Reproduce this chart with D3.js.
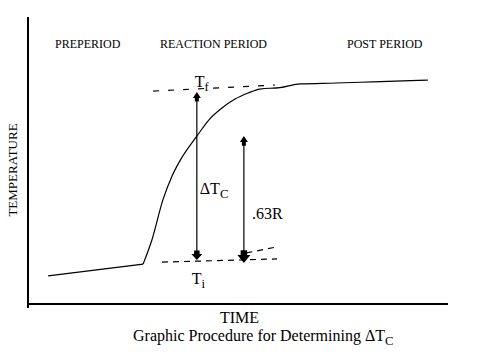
<!DOCTYPE html>
<html>
<head>
<meta charset="utf-8">
<script src="https://cdn.jsdelivr.net/npm/d3@7"></script>
<style>
  html, body { margin: 0; padding: 0; background: #fff; }
  svg { display: block; }
  text { font-family: "Liberation Serif", "Times New Roman", serif; fill: #000; }
</style>
</head>
<body>
<svg id="chart" width="479" height="359"></svg>
<script>
// ---- Data (abstract units: time 0..100, temperature 0..100) ----
const curveTime = [4.8, 27.4, 29.5, 32.1, 34.3, 36.7, 40.2, 43.3, 46.2, 49.3, 52.4, 55.2, 60.0, 64.8, 73.3, 82.1, 95.2];
const curveTemp = [9.8, 13.9, 22.3, 36.2, 44.6, 51.2, 58.5, 64.5, 68.3, 71.4, 73.5, 74.9, 75.4, 76.7, 77.0, 77.4, 78.0];

const periodLabels = ["PREPERIOD", "REACTION PERIOD", "POST PERIOD"];

// extrapolation lines [t0, T0, t1, T1]
const tfLine = [29.8, 74.2, 58.8, 76.3];
const tiLine = [31.9, 14.6, 59.3, 15.7];
const riseLine = [52.0, 17.8, 59.3, 19.9];

// arrows: time, top temperature, bottom temperature
const arrowTime = [40.2, 51.4];
const arrowTop = [73.9, 58.5];
const arrowBottom = [15.3, 14.3];

// ---- Layout ----
const svg = d3.select("#chart");
const x = d3.scaleLinear().domain([0, 100]).range([28, 448]);
const y = d3.scaleLinear().domain([0, 100]).range([304, 17]);

// Axes (plain lines, no ticks)
svg.append("line").attr("x1", x(0)).attr("x2", x(0)).attr("y1", y(100)).attr("y2", y(0) + 4)
  .attr("stroke", "#000").attr("stroke-width", 2).attr("shape-rendering", "crispEdges");
svg.append("line").attr("x1", x(0)).attr("x2", x(100)).attr("y1", y(0)).attr("y2", y(0))
  .attr("stroke", "#000").attr("stroke-width", 2).attr("shape-rendering", "crispEdges");

// Curve: straight preperiod segment, smooth reaction/post period
const pts = curveTime.map((t, i) => [t, curveTemp[i]]);
const straight = d3.line().x(d => x(d[0])).y(d => y(d[1]));
const smooth = d3.line().x(d => x(d[0])).y(d => y(d[1])).curve(d3.curveMonotoneX);
svg.append("path").attr("d", straight(pts.slice(0, 2))).attr("fill", "none").attr("stroke", "#000").attr("stroke-width", 1.2);
svg.append("path").attr("d", smooth(pts.slice(1))).attr("fill", "none").attr("stroke", "#000").attr("stroke-width", 1.2);

// Dashed extrapolation lines
function dashed(l, dash) {
  svg.append("line").attr("x1", x(l[0])).attr("y1", y(l[1])).attr("x2", x(l[2])).attr("y2", y(l[3]))
    .attr("stroke", "#000").attr("stroke-width", 1.2).attr("stroke-dasharray", dash);
}
dashed(tfLine, "6,9");
dashed(tiLine, "6,5");
dashed(riseLine, "6,5");

// Arrows
function arrowHead(cx, cy, dir, w, h) {
  // dir: -1 pointing up, 1 pointing down
  const tip = cy;
  const base = cy - dir * h;
  const stem = base - dir * (h * 0.6);
  const p = d3.path();
  p.moveTo(cx, tip);
  p.lineTo(cx - w / 2, base);
  p.lineTo(cx - w / 4, base);
  p.lineTo(cx - w / 4, stem);
  p.lineTo(cx + w / 4, stem);
  p.lineTo(cx + w / 4, base);
  p.lineTo(cx + w / 2, base);
  p.closePath();
  svg.append("path").attr("d", p.toString()).attr("fill", "#000");
}
arrowTime.forEach((t, i) => {
  svg.append("line").attr("x1", x(t)).attr("x2", x(t)).attr("y1", y(arrowTop[i]) + 3).attr("y2", y(arrowBottom[i]) - 3)
    .attr("stroke", "#000").attr("stroke-width", 1.2);
  arrowHead(x(t), y(arrowTop[i]), -1, 8, 6);
  arrowHead(x(t), y(arrowBottom[i]), 1, i === 0 ? 11 : 13, i === 0 ? 6 : 8);
});

// Period labels
const periodX = [55, 160, 347];
svg.selectAll("text.period").data(periodLabels).join("text")
  .attr("class", "period").attr("x", (d, i) => periodX[i]).attr("y", 48)
  .attr("font-size", 12).text(d => d);

// Annotation labels with subscripts
function subLabel(px, py, main, sub, size) {
  const t = svg.append("text").attr("x", px).attr("y", py).attr("font-size", size);
  t.append("tspan").text(main);
  t.append("tspan").attr("dy", 4).attr("font-size", size * 0.8).text(sub);
  return t;
}
subLabel(x(40.2) - 2, y(75.6), "T", "f", 16);
subLabel(x(40.2) + 3, y(38.3), "\u0394T", "C", 16);
svg.append("text").attr("x", x(51.4) + 8).attr("y", y(29.6)).attr("font-size", 16).text(".63R");
subLabel(x(40.2) - 5, y(7.0), "T", "i", 16);

// Axis titles
svg.append("text").attr("transform", `translate(17,170) rotate(-90)`).attr("text-anchor", "middle")
  .attr("font-size", 13).text("TEMPERATURE");
svg.append("text").attr("x", 220).attr("y", 323).attr("font-size", 16).text("TIME");
subLabel(133, 341, "Graphic Procedure for Determining \u0394T", "C", 16);
</script>
</body>
</html>
